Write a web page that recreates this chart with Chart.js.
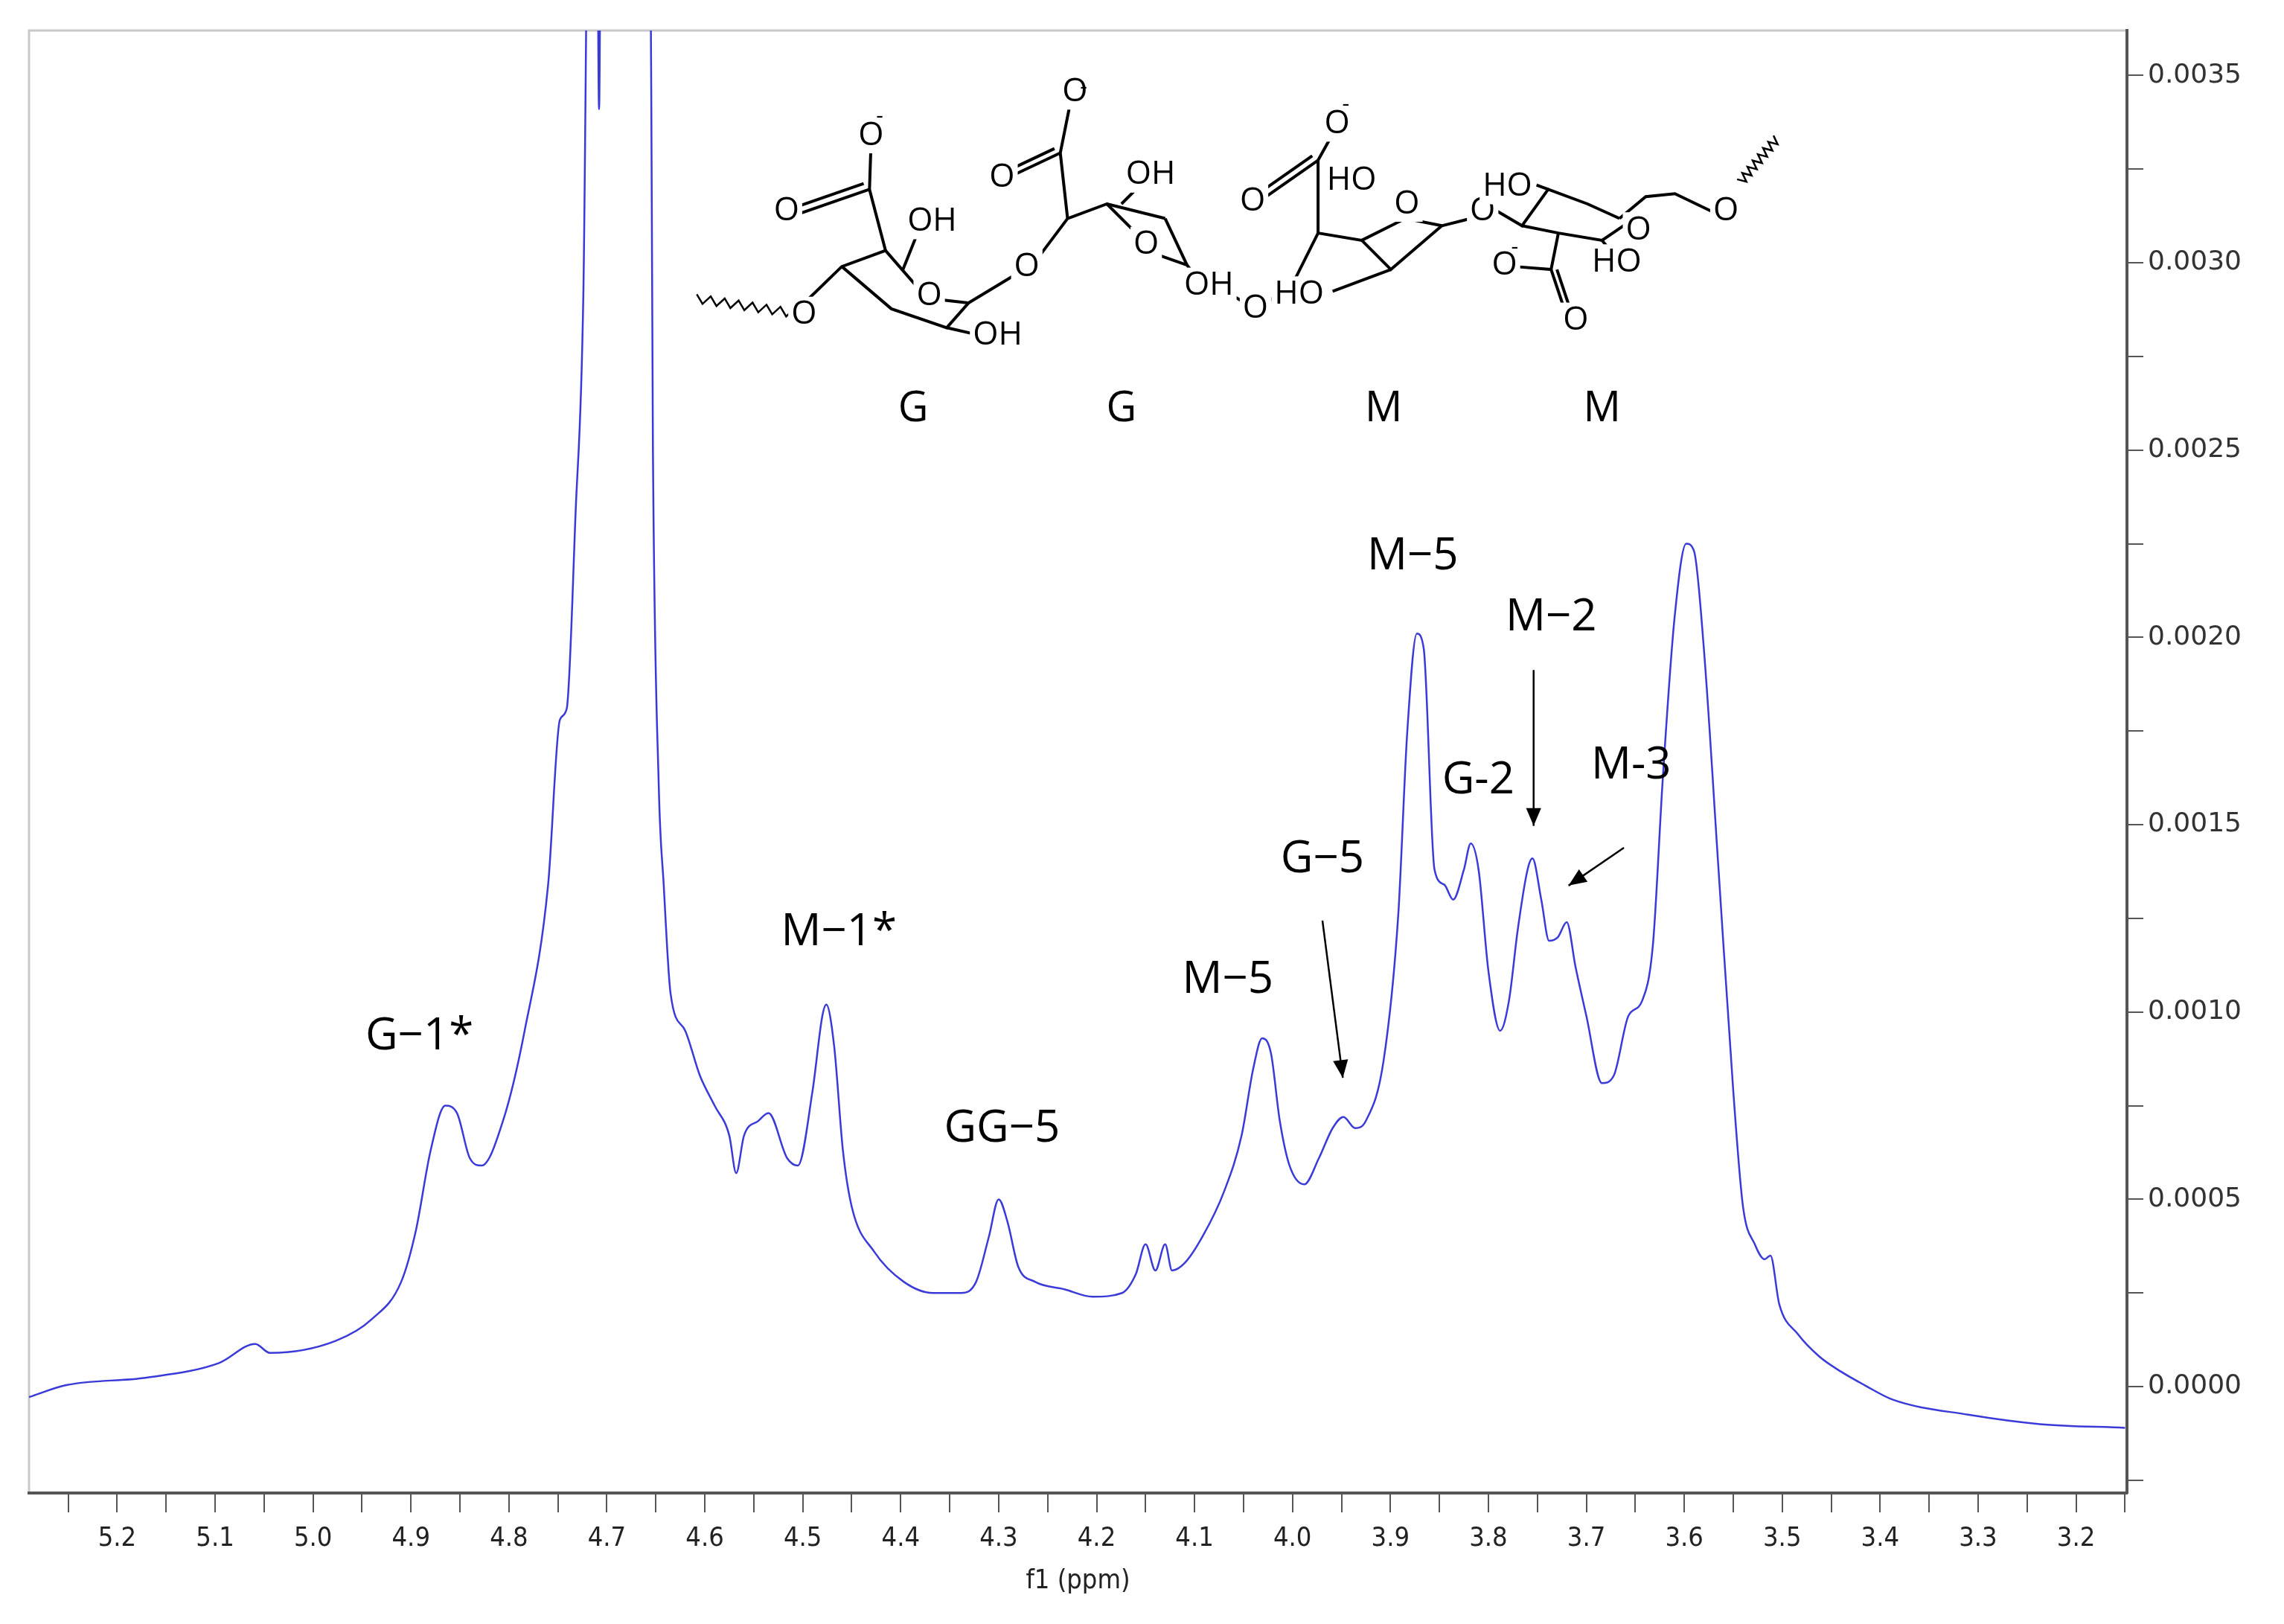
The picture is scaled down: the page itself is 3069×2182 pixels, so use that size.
<!DOCTYPE html>
<html><head><meta charset="utf-8">
<script src="https://cdn.jsdelivr.net/npm/chart.js@4/dist/chart.umd.min.js"></script>
<style>html,body{margin:0;padding:0;background:#fff}</style>
</head><body>
<canvas id="c" width="3069" height="2182"></canvas>
<script>
// Chemical shift (ppm) and intensity
const ppm = [5.29,5.252,5.17,5.096,5.059,5.044,4.977,4.94,4.91,4.895,4.88,4.865,4.853,4.84,4.828,4.806,4.784,4.76,4.748,4.741,4.732,4.724,4.717,4.711,4.708,4.705,4.657,4.653,4.647,4.642,4.635,4.62,4.605,4.59,4.575,4.568,4.56,4.545,4.535,4.516,4.505,4.49,4.48,4.476,4.468,4.459,4.45,4.427,4.397,4.367,4.338,4.323,4.31,4.30,4.291,4.28,4.263,4.233,4.204,4.174,4.16,4.15,4.14,4.13,4.123,4.11,4.092,4.07,4.052,4.04,4.031,4.022,4.013,4.003,3.988,3.973,3.959,3.948,3.936,3.925,3.907,3.892,3.883,3.873,3.866,3.855,3.845,3.836,3.825,3.818,3.81,3.8,3.788,3.779,3.77,3.76,3.755,3.746,3.738,3.729,3.72,3.711,3.7,3.684,3.672,3.657,3.643,3.632,3.622,3.61,3.598,3.59,3.58,3.565,3.55,3.54,3.528,3.518,3.512,3.503,3.484,3.462,3.44,3.416,3.387,3.31,3.237,3.15];
const intensity = [-0.000028,0.000004,0.000024,0.000063,0.000114,0.00009,0.000122,0.00018,0.00028,0.000417,0.00063,0.00075,0.00073,0.00061,0.00059,0.00071,0.00095,0.00134,0.00178,0.00181,0.00233,0.00292,0.0045,0.0045,0.00341,0.0045,0.0045,0.0025,0.0016,0.00134,0.00105,0.00095,0.00083,0.00075,0.00067,0.00057,0.00067,0.00071,0.00073,0.00061,0.00059,0.00079,0.00099,0.00102,0.00091,0.00063,0.00048,0.00036,0.00028,0.00025,0.00025,0.00028,0.0004,0.0005,0.00044,0.00032,0.00028,0.00026,0.00024,0.00025,0.0003,0.00038,0.00031,0.00038,0.00031,0.00033,0.0004,0.00052,0.00067,0.00085,0.00093,0.00089,0.00071,0.00059,0.00054,0.00061,0.00069,0.00072,0.00069,0.00071,0.00087,0.00126,0.00174,0.00201,0.00197,0.00138,0.00134,0.0013,0.00138,0.00145,0.00138,0.00111,0.00095,0.00103,0.00122,0.00138,0.00141,0.0013,0.00119,0.0012,0.00124,0.00112,0.00099,0.00081,0.00083,0.00099,0.00103,0.00118,0.00162,0.00205,0.00225,0.00223,0.00197,0.00138,0.00079,0.00048,0.00038,0.00034,0.00035,0.00022,0.00014,0.00008,0.00004,0.000004,-0.000035,-0.000075,-0.0001,-0.00011];
const xTickLabels = ['5.2','5.1','5.0','4.9','4.8','4.7','4.6','4.5','4.4','4.3','4.2','4.1','4.0','3.9','3.8','3.7','3.6','3.5','3.4','3.3','3.2'];
const yTickLabels = ['0.0000','0.0005','0.0010','0.0015','0.0020','0.0025','0.0030','0.0035'];
const peakLabels = ['G\u22121*','M\u22121*','GG\u22125','M\u22125','G\u22125','M\u22125','G-2','M\u22122','M-3'];
const unitLabels = ['G','G','M','M'];

const S = 1.957; // reference display -> pixel
const P = (x,y)=>[x*S,y*S];

const annot = {
  id:'annot',
  beforeDraw(ch){
    const c=ch.ctx, a=ch.chartArea;
    c.save(); c.strokeStyle='#c8c8c8'; c.lineWidth=3;
    c.strokeRect(a.left,a.top,a.right-a.left,a.bottom-a.top); c.restore();
  },
  afterDraw(ch){
    const c=ch.ctx; c.save();
    c.fillStyle='#000'; c.strokeStyle='#000'; c.textAlign='center'; c.textBaseline='middle';
    c.font='60px "Open Sans"';
    const lp=[[288,712],[576,640],[688,775],[843,673],[908,590],[970,382],[1015,536],[1065,424],[1120,526]];
    peakLabels.forEach((t,i)=>{const [x,y]=P(...lp[i]); c.fillText(t,x,y);});
    const arrows=[[[908,632],[922,740]],[[1053,460],[1053,567]],[[1115,582],[1077,608]]];
    c.lineWidth=2.5;
    arrows.forEach(([p0,p1])=>{
      const [x0,y0]=P(...p0),[x1,y1]=P(...p1);
      c.beginPath();c.moveTo(x0,y0);c.lineTo(x1,y1);c.stroke();
      const ang=Math.atan2(y1-y0,x1-x0),L=26,W=0.4;
      c.beginPath();c.moveTo(x1,y1);
      c.lineTo(x1-L*Math.cos(ang-W),y1-L*Math.sin(ang-W));
      c.lineTo(x1-L*Math.cos(ang+W),y1-L*Math.sin(ang+W));c.closePath();c.fill();
    });
    c.font='56px "Open Sans"';
    const ux=[627,770,950,1100];
    unitLabels.forEach((t,i)=>{const [x,y]=P(ux[i],281); c.fillText(t,x,y);});
    c.lineWidth=4;
    const lines=[
      [[545,215],[578,183],[608,172],[628,195]],[[648,206],[665,208],[650,225],[612,212],[578,183]],
      [[608,172],[597,130],[598,100]],[[597,130],[548,147]],[[593,126],[544,143]],[[620,185],[630,160]],[[650,225],[672,230]],[[665,208],[698,188]],
      [[712,178],[733,150],[760,140],[780,160]],[[795,175],[815,182],[823,192]],[[760,140],[800,150]],[[733,150],[728,105],[734,75]],[[728,105],[692,122]],[[724,102],[688,119]],[[770,140],[785,125]],[[800,150],[815,182]],[[815,185],[855,208]],
      [[868,210],[890,190],[905,160],[935,165],[965,150],[990,155]],[[905,160],[905,110],[915,92]],[[905,110],[865,138]],[[901,107],[861,135]],[[935,165],[955,185],[990,155]],[[955,185],[915,200]],[[990,155],[1010,150]],[[975,140],[965,130]],
      [[1028,145],[1045,155],[1063,130],[1090,140],[1112,150]],[[1045,155],[1070,160],[1100,165],[1122,150]],[[1063,130],[1055,127]],[[1070,160],[1065,185],[1040,183]],[[1065,185],[1075,215]],[[1069,185],[1079,215]],[[1112,150],[1130,135],[1150,133],[1175,145]],[[1100,165],[1108,175]]
    ];
    lines.forEach(pl=>{c.beginPath();pl.forEach((p,i)=>{const [x,y]=P(...p);i?c.lineTo(x,y):c.moveTo(x,y);});c.stroke();});
    c.lineWidth=2.5;
    [[478,205,545,215],[1195,125,1220,95]].forEach(([x0,y0,x1,y1])=>{
      const n=14;c.beginPath();
      for(let i=0;i<=n;i++){const t=i/n;const dx=x1-x0,dy=y1-y0,l=Math.hypot(dx,dy);
        const o=(i%2?3:-3);const [x,y]=P(x0+dx*t-dy/l*o,y0+dy*t+dx/l*o);i?c.lineTo(x,y):c.moveTo(x,y);}
      c.stroke();});
    c.font='44px "Open Sans"';
    const atoms=[['O',552,216],['O',638,203],['OH',640,152],['OH',685,230],['O',540,145],['O',598,93],['O',705,183],
      ['O',688,122],['O',738,63],['OH',790,120],['O',787,168],['OH',830,196],['O',862,212],
      ['O',860,138],['O',918,85],['HO',928,124],['O',966,140],['HO',892,202],['O',1018,145],
      ['HO',1035,128],['O',1125,158],['HO',1110,180],['O',1033,182],['O',1082,220],['O',1185,145]];
    atoms.forEach(([t,x,y])=>{const [px,py]=P(x,y);
      const w=c.measureText(t).width+8;c.fillStyle='#fff';c.fillRect(px-w/2,py-24,w,48);
      c.fillStyle='#000';c.fillText(t,px,py);});
    c.font='30px "Open Sans"';
    [[604,80],[744,60],[924,72],[1040,170]].forEach(([x,y])=>{const [px,py]=P(x,y);c.fillText('-',px,py);});
    c.restore();
  }
};

const xTickVals=[]; for(let i=63;i<=105;i++) xTickVals.push(i*0.05);
const yTickVals=[]; for(let i=-1;i<=14;i++) yTickVals.push(i*0.00025);

new Chart(document.getElementById('c'),{
  type:'scatter',
  data:{datasets:[{data:ppm.map((x,i)=>({x,y:intensity[i]})),showLine:true,borderColor:'#3a3ad8',borderWidth:2.5,pointRadius:0,cubicInterpolationMode:'monotone'}]},
  options:{
    responsive:false,animation:false,devicePixelRatio:1,
    layout:{padding:{left:39,top:41,right:0,bottom:36}},
    plugins:{legend:{display:false},tooltip:{enabled:false}},
    scales:{
      x:{type:'linear',reverse:true,min:3.148,max:5.29,
        afterBuildTicks(s){s.ticks=xTickVals.map(v=>({value:v}));},
        afterFit(s){s.height=140;},
        grid:{drawOnChartArea:false,tickLength:26,color:'#555',lineWidth:2},
        border:{color:'#555',width:4},
        ticks:{autoSkip:false,maxRotation:0,font:{family:'DejaVu Sans Condensed',size:36},color:'#222',padding:14,
          callback(v){const i=Math.round((5.2-v)*10);return Math.abs((5.2-v)*10-i)<1e-6 && i>=0 && i<xTickLabels.length?xTickLabels[i]:'';}},
        title:{display:true,text:'f1 (ppm)',font:{family:'DejaVu Sans Condensed',size:36},color:'#222',padding:{top:0,bottom:0}}
      },
      y:{position:'right',min:-0.000284,max:0.00362,
        afterBuildTicks(s){s.ticks=yTickVals.map(v=>({value:v}));},
        afterFit(s){s.width=211;},
        grid:{drawOnChartArea:false,tickLength:22,color:'#555',lineWidth:2},
        border:{color:'#555',width:4},
        ticks:{autoSkip:false,font:{family:'DejaVu Sans',size:36},color:'#333',padding:6,
          callback(v){const i=Math.round(v/0.0005);return Math.abs(v/0.0005-i)<1e-6&&i>=0?yTickLabels[i]:'';}}
      }
    }
  },
  plugins:[annot]
});
</script>
</body></html>
